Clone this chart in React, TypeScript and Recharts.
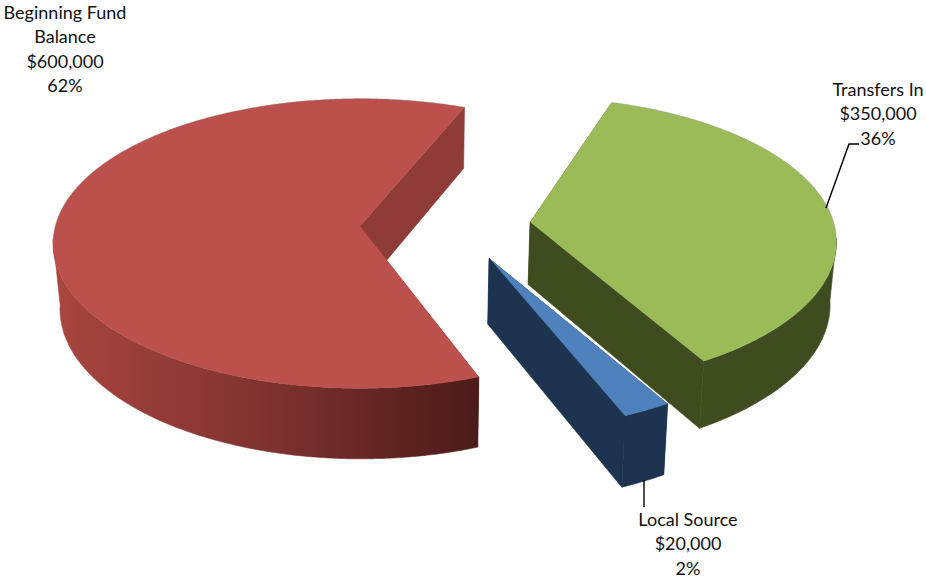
import { PieChart, Pie } from "recharts";

const sliceNames = ["Transfers In", "Local Source", "Beginning Fund Balance"];
const sliceValues = [350000, 20000, 600000];
const labelLines = [["Transfers In"], ["Local Source"], ["Beginning Fund", "Balance"]];

const chartData = sliceNames.map((name, i) => ({ name, value: sliceValues[i] }));

// how the flat pie is seen: each slice gets its own exploded ellipse and apex, as Excel's perspective does
const TILT = 0.472;
const sliceViews: Record<string, any> = {
    "Transfers In": { ex: 529.5, ey: 242, ax: 530, ay: 222, rotate: 0.5, spread: 1, drop: -2.5, top: "#9bbb59", wall: "#3f4c20", cut: "#3f4c20" },
    "Local Source": { ex: 489, ey: 286, ax: 489, ay: 258, rotate: 1.5, spread: 1.25, drop: 0, top: "#4f81bd", wall: "#1e3350", cut: "#1e3350" },
    "Beginning Fund Balance": { ex: 360, ey: 243.5, ax: 360, ay: 226, rotate: -3.9, spread: 1, drop: 0, top: "#bb504d", wall: "url(#redWall)", cut: "#8f3b38" },
};

const labelSpots: Record<string, any> = {
    "Transfers In": { x: 878, y: 96, line: "M826 208L849 144L859 144" },
    "Local Source": { x: 688, y: 526, line: "M644 480L644 507" },
    "Beginning Fund Balance": { x: 65, y: 19 },
};

const ROW = 24.4;

function extrude(x: number, y: number, drop: number) {
    // walls get a bit taller toward the viewer and lean to the middle
    const lean = x < 405 ? 0.02 : 0.015;
    return [x + (405 - x) * lean, y + 57.6 + 0.033 * y + drop];
}

function toLine(points: number[][]) {
    return "M" + points.map(p => `${p[0].toFixed(1)} ${p[1].toFixed(1)}`).join("L");
}

function Slice3D(props: any) {
    const { name, startAngle, endAngle, outerRadius } = props;
    const v = sliceViews[name];
    const rx = outerRadius;
    const ry = outerRadius * TILT;

    const arc: number[][] = [];
    const steps = Math.ceil(Math.abs(endAngle - startAngle) * 2);
    for (let i = 0; i <= steps; i++) {
        const sweep = ((endAngle - startAngle) * i * v.spread) / steps;
        const t = ((startAngle + sweep + v.rotate) * Math.PI) / 180;
        arc.push([v.ex + rx * Math.cos(t), v.ey - ry * Math.sin(t)]);
    }
    const arcBottom = arc.map(p => extrude(p[0], p[1], v.drop));
    const apex = [v.ax, v.ay];
    const apexBottom = extrude(v.ax, v.ay, v.drop);

    const first = arc[0];
    const last = arc[arc.length - 1];
    const backEdge = arc.filter(p => p[1] < v.ey);
    // only the near half of the rim can be seen
    const frontRim = arc.filter(p => p[1] > v.ey - 4);
    const frontRimBottom = frontRim.map(p => extrude(p[0], p[1], v.drop)).reverse();

    return (
        <g>
            <path d={toLine([apex, first, arcBottom[0], apexBottom]) + "Z"} fill={v.cut} />
            <path d={toLine([apex, last, arcBottom[arcBottom.length - 1], apexBottom]) + "Z"} fill={v.cut} stroke={v.cut} strokeWidth={0.6} />
            <path d={toLine([...frontRim, ...frontRimBottom]) + "Z"} fill={v.wall} stroke={v.wall} strokeWidth={0.6} />
            <path d={toLine([apex, ...arc]) + "Z"} fill={v.top} />
            {backEdge.length > 1 && (
                <path d={toLine(backEdge)} fill="none" stroke="#8a8a8a" strokeOpacity={0.35} strokeWidth={1} />
            )}
        </g>
    );
}

function SliceLabel(props: any) {
    const { name, value, percent } = props;
    const spot = labelSpots[name];
    const rows = [
        ...labelLines[sliceNames.indexOf(name)],
        "$" + value.toLocaleString("en-US"),
        Math.round(percent * 100) + "%",
    ];
    return (
        <g>
            {spot.line && <path d={spot.line} fill="none" stroke="#000" strokeWidth={1.4} />}
            {rows.map((row, i) => (
                <text
                    key={row}
                    x={spot.x}
                    y={spot.y + i * ROW}
                    textAnchor="middle"
                    fontFamily="Lato, sans-serif"
                    fontSize={18}
                    fill="#111"
                >
                    {row}
                </text>
            ))}
        </g>
    );
}

export default function App() {
    return (
        <div style={{ position: "absolute", left: 0, top: 0, width: 926, height: 581, background: "#fff" }}>
            <PieChart width={926} height={581} margin={{ top: 0, right: 0, bottom: 0, left: 0 }}>
                <defs>
                    <linearGradient id="redWall" gradientUnits="userSpaceOnUse" x1={59} y1={0} x2={478} y2={0}>
                        <stop offset="0" stopColor="#a8453f" />
                        <stop offset="0.5" stopColor="#7e322f" />
                        <stop offset="1" stopColor="#4c1b19" />
                    </linearGradient>
                </defs>
                <Pie
                    data={chartData}
                    dataKey="value"
                    nameKey="name"
                    cx={463}
                    cy={290}
                    outerRadius={307}
                    startAngle={74}
                    endAngle={-286}
                    stroke="none"
                    isAnimationActive={false}
                    shape={Slice3D}
                    label={SliceLabel}
                    labelLine={false}
                    rootTabIndex={-1}
                />
            </PieChart>
        </div>
    );
}
